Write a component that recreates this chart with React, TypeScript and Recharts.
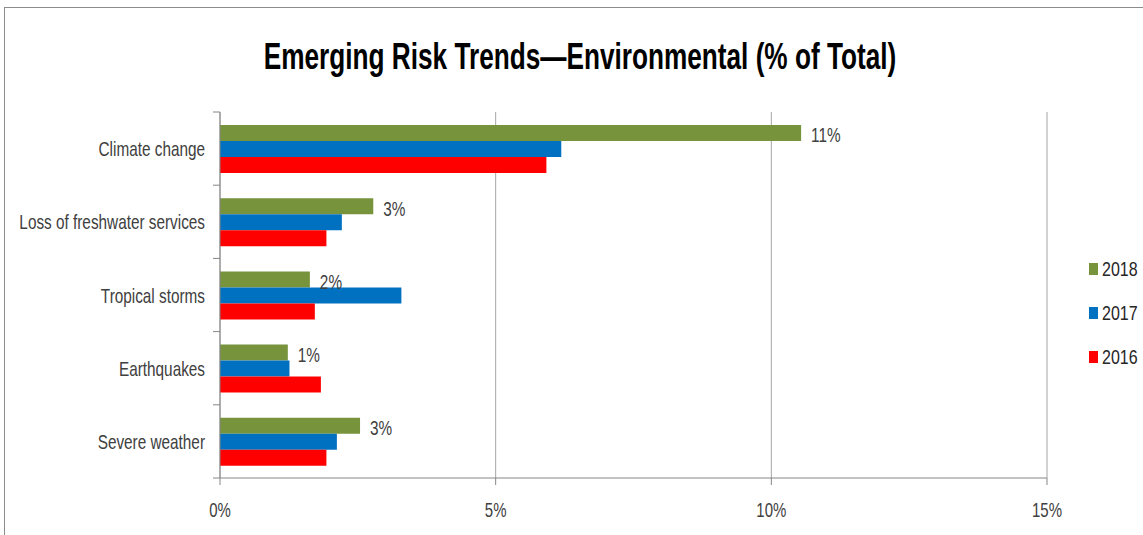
import { BarChart, Bar, XAxis, YAxis, CartesianGrid, Legend, LabelList } from "recharts";

const categories = [
  "Climate change",
  "Loss of freshwater services",
  "Tropical storms",
  "Earthquakes",
  "Severe weather",
];

// values in % of total
const y2018 = [10.54, 2.78, 1.63, 1.23, 2.54];
const y2017 = [6.19, 2.21, 3.29, 1.26, 2.12];
const y2016 = [5.92, 1.93, 1.72, 1.83, 1.93];

const xTicks = [0, 5, 10, 15];

const series = [
  { key: "2018", color: "#77933C" },
  { key: "2017", color: "#0070C0" },
  { key: "2016", color: "#FF0000" },
];

const data = categories.map((name, i) => ({
  name,
  "2018": y2018[i],
  "2017": y2017[i],
  "2016": y2016[i],
}));

const W = 1143;
const H = 535;
const TOP = 112;
const BOTTOM = 478;
const BAND = (BOTTOM - TOP) / categories.length;
const FONT = "'Liberation Sans', Arial, sans-serif";
const AXIS = "#868686";
const TEXT = "#404040";

function YTick(props: any) {
  const { x, y, payload, index } = props;
  const axisX = x + 15;
  const half = BAND / 2;
  return (
    <g>
      <line x1={axisX - 7} x2={axisX} y1={y - half} y2={y - half} stroke={AXIS} />
      {index === categories.length - 1 && (
        <line x1={axisX - 7} x2={axisX} y1={y + half} y2={y + half} stroke={AXIS} />
      )}
      <g transform={`translate(${x},${y}) scale(0.73,1)`}>
        <text textAnchor="end" dy="0.36em" fontSize={21} fill={TEXT} fontFamily={FONT}>
          {payload.value}
        </text>
      </g>
    </g>
  );
}

function XTick(props: any) {
  const { x, y, payload } = props;
  return (
    <g transform={`translate(${x},${y}) scale(0.75,1)`}>
      <text textAnchor="middle" dy="0.71em" fontSize={20} fill={TEXT} fontFamily={FONT}>
        {payload.value}%
      </text>
    </g>
  );
}

function ValueLabel(props: any) {
  const { x, y, width, height, value } = props;
  const lx = Number(x) + Number(width) + 10;
  const ly = Number(y) + Number(height) / 2;
  return (
    <g transform={`translate(${lx},${ly}) scale(0.73,1)`}>
      <text dy="0.45em" fontSize={21} fill={TEXT} fontFamily={FONT}>
        {Math.round(Number(value))}%
      </text>
    </g>
  );
}

function LegendBox() {
  return (
    <div style={{ width: 54, fontFamily: FONT }}>
      {series.map((s) => (
        <div key={s.key} style={{ height: 44, display: "flex", alignItems: "center" }}>
          <span style={{ width: 9, height: 12, background: s.color, marginRight: 4, flexShrink: 0 }} />
          <span
            style={{
              fontSize: 20,
              color: "#262626",
              display: "inline-block",
              transform: "scaleX(0.8)",
              transformOrigin: "left center",
            }}
          >
            {s.key}
          </span>
        </div>
      ))}
    </div>
  );
}

export default function App() {
  return (
    <div
      style={{
        position: "absolute",
        left: 0,
        top: 0,
        width: W,
        height: H,
        overflow: "hidden",
        background: "#fff",
      }}
    >
      <div
        style={{
          position: "absolute",
          left: 4,
          top: 7,
          width: W + 100,
          height: H + 100,
          border: "1.5px solid #8c8c8c",
        }}
      />
      <svg width={W} height={120} style={{ position: "absolute", left: 0, top: 0 }}>
        <g transform="translate(580,68.5) scale(0.708,1)">
          <text
            textAnchor="middle"
            fontSize={37}
            fontWeight="bold"
            fontFamily={FONT}
            fill="#000"
          >
            Emerging Risk Trends—Environmental (% of Total)
          </text>
        </g>
      </svg>
      <div style={{ position: "absolute", left: 0, top: 0 }}>
        <BarChart
          width={W}
          height={H}
          data={data}
          layout="vertical"
          margin={{ top: TOP, right: 42, bottom: 17, left: 0 }}
          barGap={0}
          barSize={16}
        >
          <CartesianGrid horizontal={false} stroke="#A6A6A6" />
          <XAxis
            type="number"
            domain={[0, 15]}
            ticks={xTicks}
            interval={0}
            height={40}
            stroke={AXIS}
            tickSize={7}
            tickMargin={18}
            tick={<XTick />}
          />
          <YAxis
            type="category"
            dataKey="name"
            width={220}
            interval={0}
            stroke={AXIS}
            tickLine={false}
            tickSize={7}
            tickMargin={8}
            tick={<YTick />}
          />
          <Legend
            layout="vertical"
            align="right"
            verticalAlign="middle"
            wrapperStyle={{ left: 1089, top: 247 }}
            content={() => <LegendBox />}
          />
          {series.map((s) => (
            <Bar key={s.key} dataKey={s.key} fill={s.color} isAnimationActive={false}>
              {s.key === "2018" && <LabelList dataKey="2018" content={<ValueLabel />} />}
            </Bar>
          ))}
        </BarChart>
      </div>
    </div>
  );
}
